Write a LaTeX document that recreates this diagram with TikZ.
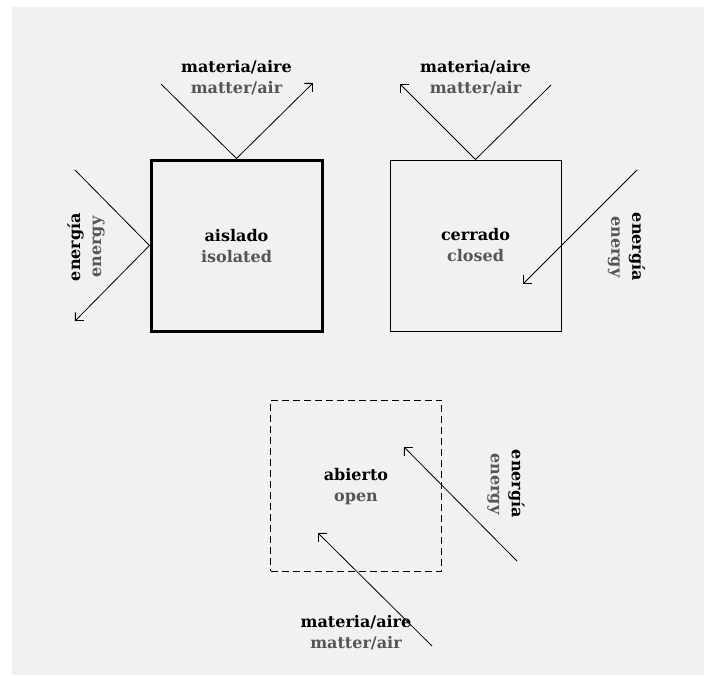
\documentclass[tikz,border=0pt]{standalone}
\usepackage{fontspec}
\setmainfont{DejaVu Serif}
\usetikzlibrary{arrows.meta}

\definecolor{bggray}{HTML}{F1F1F1}
\definecolor{engray}{HTML}{555555}

\tikzset{
	system/.style = {minimum size = \side pt, inner sep = 0pt},
	caption/.style = {align = center, inner sep = 0pt, font = \fontsize{16}{21}\selectfont\bfseries},
	flow/.style = {line width = 0.8pt}
}

\begin{document}
\begin{tikzpicture}[x = 1pt, y = -1pt, > = {Straight Barb[angle = 90:8.5pt]}]

	% Definitions
	
	\def\side{171}	% Side of each system box
	
	% Page and background
	
	\useasboundingbox (0, 0) rectangle (704, 675);
	\fill [white] (0, 0) rectangle (704, 675);
	\fill [bggray] (12, 7) rectangle (704, 675);
	
	% Systems
	
	\node [system, draw, line width = 3pt] (iso) at (236.5, 245.5) {};
	\node [system, draw, line width = 1pt] (clo) at (475.5, 245.5) {};
	\node [system, draw, line width = 1pt, dash pattern = on 7pt off 4pt] (ope) at (356, 485.5) {};
	
	\node [caption] (isoname) at (236.5, 246.5) {aislado\\\textcolor{engray}{isolated}};
	\node [caption] (cloname) at (475.5, 245.5) {cerrado\\\textcolor{engray}{closed}};
	\node [caption] (opename) at (356, 486.5) {abierto\\\textcolor{engray}{open}};
	
	% Isolated: matter and energy bounce back
	
	\coordinate (isoMin) at (161, 84);
	\coordinate (isoMout) at (313, 83);
	\coordinate (isoEin) at (75, 170);
	\coordinate (isoEout) at (75, 321);
	
	\draw [flow] (isoMin) -- (iso.north);
	\draw [flow, ->] (iso.north) -- (isoMout);
	\draw [flow] (isoEin) -- (iso.west);
	\draw [flow, ->] (iso.west) -- (isoEout);
	
	\node [caption] (isoM) at (236.5, 78) {materia/aire\\\textcolor{engray}{matter/air}};
	\node [caption, rotate = 90] (isoE) at (86, 247) {energía\\\textcolor{engray}{energy}};
	
	% Closed: matter bounces back, energy passes
	
	\coordinate (cloMout) at (400, 84);
	\coordinate (cloMin) at (551, 85);
	\coordinate (cloEin) at (637, 170);
	\coordinate (cloEend) at (523, 284);
	
	\draw [flow, ->] (clo.north) -- (cloMout);
	\draw [flow] (cloMin) -- (clo.north);
	\draw [flow, ->] (cloEin) -- (cloEend);
	
	\node [caption] (cloM) at (475.5, 78) {materia/aire\\\textcolor{engray}{matter/air}};
	\node [caption, rotate = -90] (cloE) at (626.5, 247) {energía\\\textcolor{engray}{energy}};
	
	% Open: both pass
	
	\coordinate (opeEin) at (517, 561);
	\coordinate (opeEend) at (404, 447);
	\coordinate (opeMin) at (432, 646);
	\coordinate (opeMend) at (318, 533);
	
	\draw [flow, ->] (opeEin) -- (opeEend);
	\draw [flow, ->] (opeMin) -- (opeMend);
	
	\node [caption, rotate = -90] (opeE) at (506, 484) {energía\\\textcolor{engray}{energy}};
	\node [caption] (opeM) at (356, 632.5) {materia/aire\\\textcolor{engray}{matter/air}};

\end{tikzpicture}
\end{document}
